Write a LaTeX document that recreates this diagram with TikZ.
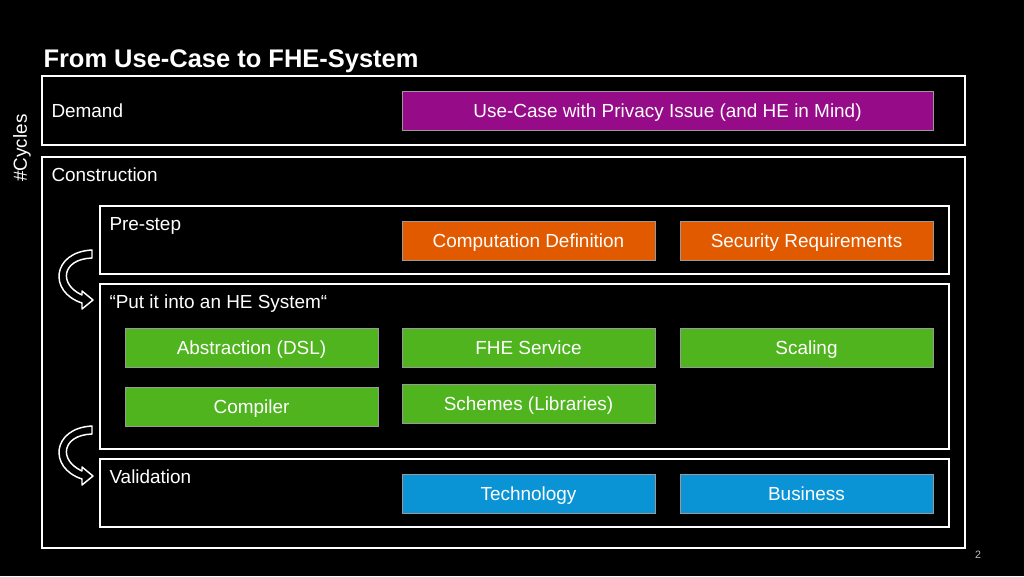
\documentclass[tikz,border=0pt]{standalone}
\usepackage{fontspec}
\setmainfont{Liberation Sans}
\definecolor{usecasemag}{HTML}{960B87}
\definecolor{prestepor}{HTML}{E25A00}
\definecolor{systemgr}{HTML}{4FB41E}
\definecolor{validbl}{HTML}{0A94D6}
\tikzset{every picture/.style={line width=0.75pt}}
\tikzset{
  frame/.style={draw=white, line width=1.5pt},
  steplabel/.style={anchor=west, inner sep=0pt, text=white, text height=10.2pt, text depth=0pt,
    font=\fontsize{14.2}{16}\selectfont},
  tilebox/.style={minimum width=190pt, minimum height=29pt, inner sep=0pt, text=white,
    text height=10.2pt, text depth=0pt,
    font=\fontsize{14.2}{16}\selectfont, draw=black!40, line width=0.5pt},
  cyclearrow/.style={draw=white, fill=black, line width=1.1pt, line join=round}
}

\begin{document}
\begin{tikzpicture}[x=0.75pt,y=0.75pt,yscale=-1,xscale=1]
% background
\fill[black] (0,0) rectangle (1024,576);
\useasboundingbox (0,0) rectangle (1024,576);

% Text Node
\node[anchor=west, inner sep=0pt, text=white, text height=13.8pt, text depth=0pt,
  font=\bfseries\fontsize{19.1}{22}\selectfont] (title) at (43,58) {From Use-Case to FHE-System};
% Text Node
\node[text=white, rotate=90, inner sep=0pt, font=\fontsize{14.2}{16}\selectfont] (cycles) at (22,148) {\#Cycles};

%Shape: Rectangle
\draw[frame] (42,76) rectangle (965,145);
%Shape: Rectangle
\draw[frame] (42,157) rectangle (965,548);
%Shape: Rectangle
\draw[frame] (100,206) rectangle (949,274);
%Shape: Rectangle
\draw[frame] (100,284) rectangle (949,449);
%Shape: Rectangle
\draw[frame] (100,459) rectangle (949,527);

% Text Node
\node[steplabel] (demand) at (51,111) {Demand};
% Text Node
\node[steplabel] (construction) at (51,175) {Construction};
% Text Node
\node[steplabel] (prestep) at (109,224) {Pre-step};
% Text Node
\node[steplabel] (putit) at (109,302) {“Put it into an HE System“};
% Text Node
\node[steplabel] (validation) at (109,477) {Validation};

% Demand
\node[tilebox, fill=usecasemag, minimum width=398pt] (usecase) at (667.5,110.5) {Use-Case with Privacy Issue (and HE in Mind)};

% Pre-step
\node[tilebox, fill=prestepor] (compdef) at (528.5,240.5) {Computation Definition};
\node[tilebox, fill=prestepor] (secreq) at (806.5,240.5) {Security Requirements};

% HE system
\node[tilebox, fill=systemgr] (dsl) at (251.5,347.5) {Abstraction (DSL)};
\node[tilebox, fill=systemgr] (fheserv) at (528.5,347.5) {FHE Service};
\node[tilebox, fill=systemgr] (scaling) at (806.5,347.5) {Scaling};
\node[tilebox, fill=systemgr] (compiler) at (251.5,406.5) {Compiler};
\node[tilebox, fill=systemgr] (schemes) at (528.5,403.5) {Schemes (Libraries)};

% Validation
\node[tilebox, fill=validbl] (technology) at (528.5,493.5) {Technology};
\node[tilebox, fill=validbl] (business) at (806.5,493.5) {Business};

%Curved Arrows
\foreach \dy in {0,176}{
  \draw[cyclearrow] (92,250+\dy) .. controls (52,252+\dy) and (48,292+\dy) .. (82,303+\dy)
    -- (82,309+\dy) -- (93,300+\dy) -- (82,291+\dy) -- (82,295+\dy)
    .. controls (58,284+\dy) and (62,259+\dy) .. (92,258+\dy) -- cycle;
}

% Text Node
\node[text=black!25, font=\fontsize{8}{9}\selectfont] (pagenum) at (978,555) {2};

\end{tikzpicture}
\end{document}
